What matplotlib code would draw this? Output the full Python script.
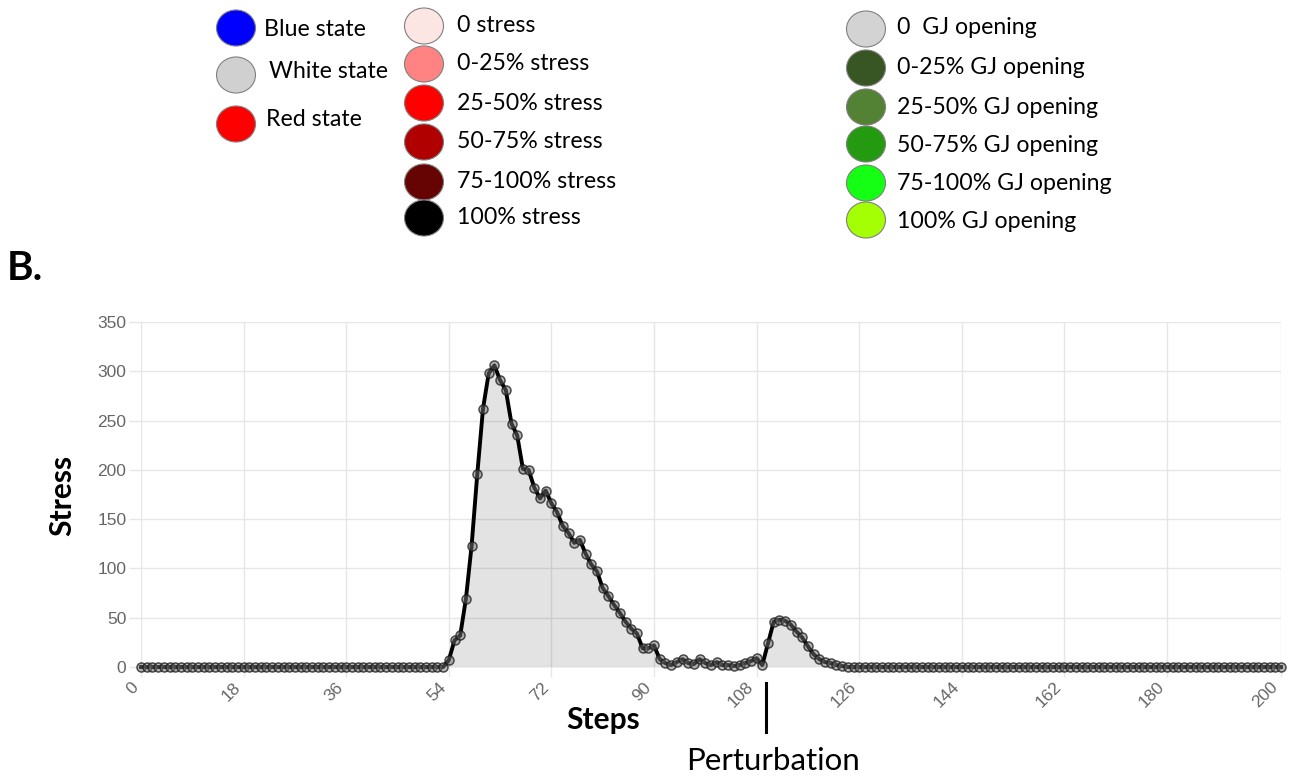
import matplotlib
matplotlib.use("Agg")
import matplotlib.pyplot as plt
from matplotlib.patches import Ellipse

# ---- data ----
steps = list(range(201))
stress = [
    0, 0, 0, 0, 0, 0, 0, 0, 0, 0, 0, 0, 0, 0, 0, 0, 0, 0, 0, 0,       # 0-19
    0, 0, 0, 0, 0, 0, 0, 0, 0, 0, 0, 0, 0, 0, 0, 0, 0, 0, 0, 0,       # 20-39
    0, 0, 0, 0, 0, 0, 0, 0, 0, 0, 0, 0, 0, 0, 7, 27, 32, 69, 123, 196,  # 40-59
    262, 298, 306, 291, 281, 247, 235, 201, 200, 182,               # 60-69
    171, 179, 166, 157, 143, 136, 126, 129, 115, 104,               # 70-79
    97, 80, 72, 63, 55, 46, 39, 34, 19, 19,                         # 80-89
    22, 8, 4, 2, 5, 8, 4, 3, 8, 4,                                  # 90-99
    2, 5, 2, 2, 1, 2, 4, 6, 9, 2,                                   # 100-109
    24, 46, 48, 47, 43, 36, 30, 21, 13, 8,                          # 110-119
    5, 4, 2, 1, 0, 0, 0, 0, 0, 0,                                   # 120-129
    0, 0, 0, 0, 0, 0, 0, 0, 0, 0, 0, 0, 0, 0, 0, 0, 0, 0, 0, 0,     # 130-149
    0, 0, 0, 0, 0, 0, 0, 0, 0, 0, 0, 0, 0, 0, 0, 0, 0, 0, 0, 0,     # 150-169
    0, 0, 0, 0, 0, 0, 0, 0, 0, 0, 0, 0, 0, 0, 0, 0, 0, 0, 0, 0,     # 170-189
    0, 0, 0, 0, 0, 0, 0, 0, 0, 0, 0,                                # 190-200
]
x_ticks = [0, 18, 36, 54, 72, 90, 108, 126, 144, 162, 180, 200]
y_ticks = [0, 50, 100, 150, 200, 250, 300, 350]
perturb_step = 109.6

state_labels = ["Blue state", "White state", "Red state"]
state_colors = ["#0000ff", "#d0d0d0", "#ff0000"]
stress_labels = ["0 stress", "0-25% stress", "25-50% stress",
                 "50-75% stress", "75-100% stress", "100% stress"]
stress_colors = ["#fce6e4", "#ff8383", "#ff0000", "#b00000", "#660404", "#000000"]
gj_labels = ["0  GJ opening", "0-25% GJ opening", "25-50% GJ opening",
             "50-75% GJ opening", "75-100% GJ opening", "100% GJ opening"]
gj_colors = ["#d3d3d3", "#375623", "#548235", "#239a10", "#14ff14", "#a4ff05"]

W, H = 1295, 783
fig = plt.figure(figsize=(W / 100, H / 100), dpi=100)
label_font = "Lato"
legend_size = 16.7

# ---- main chart ----
ax = fig.add_axes([141 / W, 1 - 667 / H, 1140 / W, 345 / H])
ax.fill_between(steps, stress, color=(0, 0, 0, 0.11), lw=0, zorder=2)
ax.plot(steps, stress, color="black", lw=2.8, zorder=3, clip_on=False,
        marker="o", ms=6.5, mfc=(0.45, 0.45, 0.45, 0.5),
        mec=(0.1, 0.1, 0.1, 0.75), mew=1.1)
ax.set_xlim(0, 200)
ax.set_ylim(0, 350)
ax.set_xticks(x_ticks)
ax.set_yticks(y_ticks)
ax.set_xticklabels([str(t) for t in x_ticks], rotation=45, ha="right", va="top")
ax.grid(True, color="#e6e6e6", lw=1, zorder=0)
ax.set_axisbelow(True)
for s in ax.spines.values():
    s.set_visible(False)
ax.tick_params(axis="y", length=9, width=1, color="#e6e6e6", pad=1.5,
               labelsize=12.5, labelcolor="#666666")
ax.tick_params(axis="x", length=7, width=1, color="#e6e6e6", pad=2,
               labelsize=12.5, labelcolor="#666666")
for lab in ax.get_xticklabels() + ax.get_yticklabels():
    lab.set_fontfamily("Liberation Sans")

# ---- overlay in pixel coordinates ----
ov = fig.add_axes([0, 0, 1, 1])
ov.set_xlim(0, W)
ov.set_ylim(H, 0)
ov.axis("off")
ov.patch.set_alpha(0)


def legend_entry(cx, cy, tx, ty, label, color):
    ov.add_patch(Ellipse((cx, cy), 39, 36, facecolor=color,
                         edgecolor="#808080", lw=0.8))
    ov.text(tx, ty, label, fontsize=legend_size, family=label_font,
            va="center", ha="left")


for cy, tx, ty, lab, col in zip([28, 75, 124], [264, 269, 266], [29, 72, 120],
                                state_labels, state_colors):
    legend_entry(236, cy, tx, ty, lab, col)

for cy, ty, lab, col in zip([26, 64, 103, 142, 182, 218],
                            [25, 63, 103, 142, 182, 218],
                            stress_labels, stress_colors):
    legend_entry(424, cy, 457, ty, lab, col)

for cy, ty, lab, col in zip([29, 68, 107, 144, 183, 220],
                            [28, 67, 107, 145, 184, 221],
                            gj_labels, gj_colors):
    legend_entry(866, cy, 897, ty, lab, col)

ov.text(7, 269, "B.", fontsize=29, fontweight="bold", family=label_font,
        va="center", ha="left")
ov.text(62, 495, "Stress", fontsize=21.5, fontweight="bold", family=label_font,
        rotation=90, va="center", ha="center")
ov.text(603, 720, "Steps", fontsize=21.5, fontweight="bold", family=label_font,
        va="center", ha="center")

# perturbation marker below the x axis
px = ax.transData.transform((perturb_step, 0))[0]
ov.plot([px, px], [683, 732], color="black", lw=2.2)
ov.text(px + 7, 761, "Perturbation", fontsize=22.5, family=label_font,
        va="center", ha="center")

fig.savefig("out.png", dpi=100)
